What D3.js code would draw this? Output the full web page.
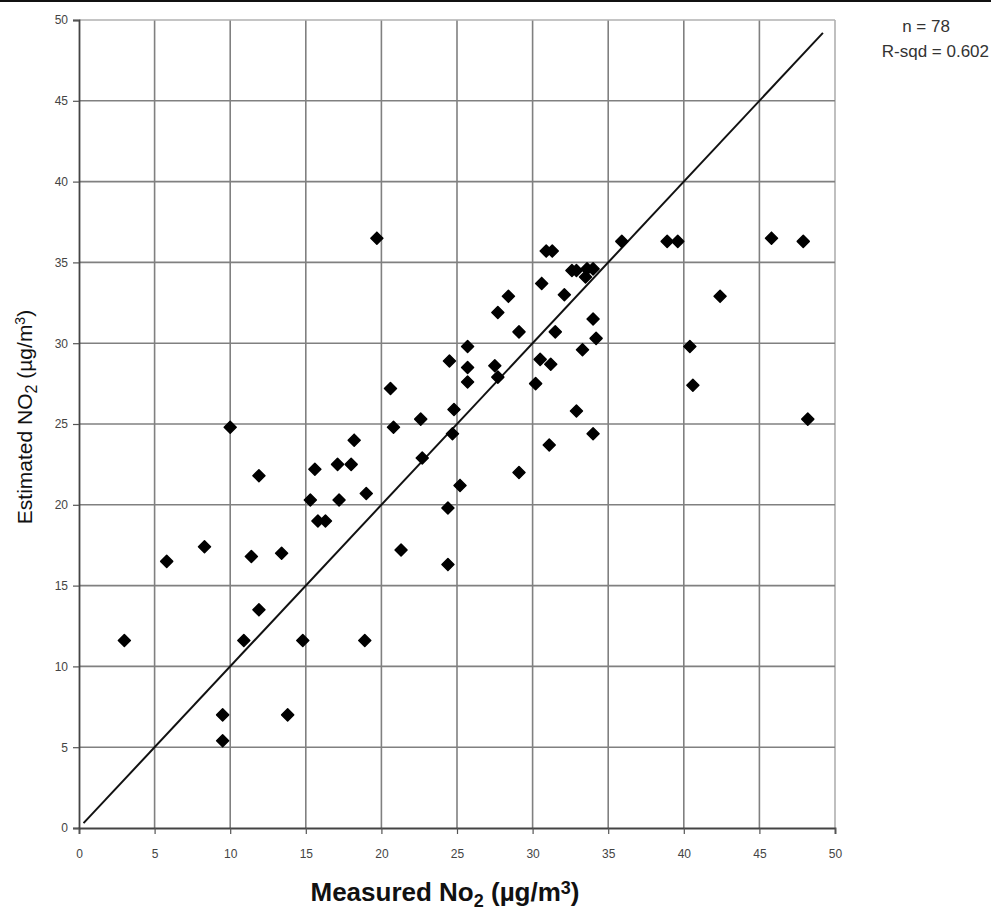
<!DOCTYPE html>
<html>
<head>
<meta charset="utf-8">
<script src="https://cdn.jsdelivr.net/npm/d3@7"></script>
<style>
  body { margin: 0; background: #fff; }
  svg { display: block; }
  .tick text { font-family: "Liberation Sans Narrow", "Arial Narrow", "Liberation Sans", sans-serif; font-size: 12px; fill: #444; }
</style>
</head>
<body>
<div id="chart"></div>
<script>
// measured vs estimated NO2 scatter
var svgWidth = 991;
var svgHeight = 911;

// data
var measured = [3.0, 5.8, 8.3, 10.0, 11.9, 11.4, 13.4, 11.9, 10.9, 14.8,
  9.5, 13.8, 9.5, 18.9, 15.3, 15.6, 15.8, 16.3, 17.1, 17.2,
  18.0, 18.2, 19.0, 20.8, 21.3, 22.6, 22.7, 24.8, 24.7, 25.2,
  24.4, 24.4, 29.1, 19.7, 30.9, 31.3, 35.9, 32.6, 32.9, 33.6,
  34.0, 33.5, 30.6, 32.1, 28.4, 27.7, 29.1, 31.5, 34.0, 34.2,
  33.3, 25.7, 24.5, 25.7, 25.7, 27.5, 27.7, 30.5, 31.2, 30.2,
  20.6, 32.9, 34.0, 31.1, 38.9, 39.6, 45.8, 47.9, 42.4, 40.4,
  40.6, 48.2];
var estimated = [11.6, 16.5, 17.4, 24.8, 21.8, 16.8, 17.0, 13.5, 11.6, 11.6,
  7.0, 7.0, 5.4, 11.6, 20.3, 22.2, 19.0, 19.0, 22.5, 20.3,
  22.5, 24.0, 20.7, 24.8, 17.2, 25.3, 22.9, 25.9, 24.4, 21.2,
  19.8, 16.3, 22.0, 36.5, 35.7, 35.7, 36.3, 34.5, 34.5, 34.6,
  34.6, 34.1, 33.7, 33.0, 32.9, 31.9, 30.7, 30.7, 31.5, 30.3,
  29.6, 29.8, 28.9, 28.5, 27.6, 28.6, 27.9, 29.0, 28.7, 27.5,
  27.2, 25.8, 24.4, 23.7, 36.3, 36.3, 36.5, 36.3, 32.9, 29.8,
  27.4, 25.3];
var lineEnds = [0.3, 49.2];   // 1:1 line
var ticks = [0, 5, 10, 15, 20, 25, 30, 35, 40, 45, 50];
var statLines = ["n = 78", "R-sqd = 0.602"];

var chartData = measured.map((m, i) => ({ x: m, y: estimated[i] }));

var svg = d3.select("#chart")
  .append("svg")
  .attr("width", svgWidth)
  .attr("height", svgHeight);

// black rule across the top
svg.append("rect")
  .attr("x", 0).attr("y", 0)
  .attr("width", svgWidth).attr("height", 2)
  .attr("fill", "#111");

var xScale = d3.scaleLinear().domain([0, 50]).range([79, 835]);
var yScale = d3.scaleLinear().domain([0, 50]).range([828, 20]);

// gridlines
var grid = svg.append("g");
grid.selectAll(".vgrid")
  .data(ticks.slice(1))
  .join("line")
  .attr("x1", d => xScale(d)).attr("x2", d => xScale(d))
  .attr("y1", yScale(50)).attr("y2", yScale(0))
  .attr("stroke", d => d === 50 ? "#b0b0b0" : "#808080")
  .attr("stroke-width", 1.6);
grid.selectAll(".hgrid")
  .data(ticks.slice(1))
  .join("line")
  .attr("x1", xScale(0)).attr("x2", xScale(50))
  .attr("y1", d => yScale(d)).attr("y2", d => yScale(d))
  .attr("stroke", d => d === 50 ? "#b0b0b0" : "#808080")
  .attr("stroke-width", 1.6);

// axes
var bottomAxis = d3.axisBottom(xScale).tickValues(ticks).tickSize(6).tickPadding(15);
var leftAxis = d3.axisLeft(yScale).tickValues(ticks).tickSize(6).tickPadding(5);

var xAxis = svg.append("g")
  .attr("transform", `translate(0, ${yScale(0)})`)
  .call(bottomAxis);
var yAxis = svg.append("g")
  .attr("transform", `translate(${xScale(0)}, 0)`)
  .call(leftAxis);

[xAxis, yAxis].forEach(function(ax) {
  ax.select(".domain").attr("stroke", "#444").attr("stroke-width", 1.8);
  ax.selectAll(".tick line").attr("stroke", "#555").attr("stroke-width", 1.2);
});

// 1:1 line
svg.append("line")
  .attr("x1", xScale(lineEnds[0])).attr("y1", yScale(lineEnds[0]))
  .attr("x2", xScale(lineEnds[1])).attr("y2", yScale(lineEnds[1]))
  .attr("stroke", "#111")
  .attr("stroke-width", 2);

// diamonds (square turned 45 degrees)
var diamond = d3.symbol().type(d3.symbolSquare).size(72);
svg.append("g")
  .selectAll("path")
  .data(chartData)
  .join("path")
  .attr("transform", d => `translate(${xScale(d.x)}, ${yScale(d.y)}) rotate(45)`)
  .attr("d", diamond)
  .attr("fill", "#000")
  .attr("stroke", "#000")
  .attr("stroke-width", 1.5)
  .attr("stroke-linejoin", "round");

// axis titles
var xTitle = svg.append("text")
  .attr("x", 445)
  .attr("y", 901)
  .attr("text-anchor", "middle")
  .style("font-family", "'Liberation Sans Narrow', 'Arial Narrow', 'Liberation Sans', sans-serif")
  .style("font-size", "26px")
  .style("font-weight", "bold")
  .attr("fill", "#111");
xTitle.append("tspan").text("Measured No");
xTitle.append("tspan").attr("dy", 6).style("font-size", "18px").text("2");
xTitle.append("tspan").attr("dy", -6).text(" (µg/m");
xTitle.append("tspan").attr("dy", -7).style("font-size", "18px").text("3");
xTitle.append("tspan").attr("dy", 7).text(")");

var yTitle = svg.append("text")
  .attr("transform", `translate(32, 417) rotate(-90)`)
  .attr("text-anchor", "middle")
  .style("font-family", "'Liberation Sans', Arial, sans-serif")
  .style("font-size", "21px")
  .attr("fill", "#111");
yTitle.append("tspan").text("Estimated NO");
yTitle.append("tspan").attr("dy", 5).style("font-size", "16px").text("2");
yTitle.append("tspan").attr("dy", -5).text(" (µg/m");
yTitle.append("tspan").attr("dy", -7).style("font-size", "14px").text("3");
yTitle.append("tspan").attr("dy", 7).text(")");

// n and R-sqd
svg.selectAll(".stat")
  .data(statLines)
  .join("text")
  .attr("x", (d, i) => i === 0 ? 926 : 989)
  .attr("y", (d, i) => 32 + i * 25)
  .attr("text-anchor", (d, i) => i === 0 ? "middle" : "end")
  .style("font-family", "'Liberation Sans Narrow', 'Arial Narrow', 'Liberation Sans', sans-serif")
  .style("font-size", "17px")
  .attr("fill", "#333")
  .text(d => d);
</script>
</body>
</html>
